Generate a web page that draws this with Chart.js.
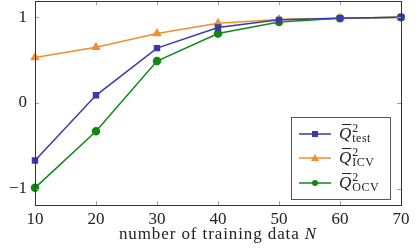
<!DOCTYPE html>
<html lang="en">
<head>
<meta charset="UTF-8">
<title>Q2 vs training data</title>
<script src="https://cdn.jsdelivr.net/npm/chart.js"></script>
<style>
  html, body { margin: 0; padding: 0; background: #fff; }
  #wrap { width: 416px; height: 248px; }
</style>
</head>
<body>
<div id="wrap"><canvas id="q2Chart" width="416" height="248"></canvas></div>
<script>
const trainingN = [10, 20, 30, 40, 50, 60, 70];
const q2Test = [-0.67, 0.09, 0.64, 0.88, 0.97, 0.99, 1.0];
const q2Icv = [0.53, 0.65, 0.81, 0.93, 0.975, 0.99, 1.0];
const q2Ocv = [-0.99, -0.33, 0.49, 0.81, 0.945, 0.99, 1.0];
const yTicks = [-1, 0, 1];
const seriesSubs = ["test", "ICV", "OCV"];

const serif = "'Liberation Serif', 'DejaVu Serif', serif";
const colors = ["#3a3aa6", "#f28e2b", "#118811"];
const markers = ["rect", "triangle", "circle"];

// inside tick marks + frame, like pgfplots
const framePlugin = {
    id: "frame",
    afterDraw(chart) {
        const { ctx, chartArea: a, scales } = chart;
        ctx.save();
        ctx.strokeStyle = "#a0a0a0";
        ctx.lineWidth = 1;
        trainingN.forEach(v => {
            const x = Math.round(scales.x.getPixelForValue(v)) + 0.5;
            ctx.beginPath();
            ctx.moveTo(x, a.bottom); ctx.lineTo(x, a.bottom - 4);
            ctx.moveTo(x, a.top); ctx.lineTo(x, a.top + 4);
            ctx.stroke();
        });
        yTicks.forEach(v => {
            const y = Math.round(scales.y.getPixelForValue(v)) + 0.5;
            ctx.beginPath();
            ctx.moveTo(a.left, y); ctx.lineTo(a.left + 4, y);
            ctx.moveTo(a.right, y); ctx.lineTo(a.right - 4, y);
            ctx.stroke();
        });
        ctx.strokeStyle = "#333";
        ctx.strokeRect(Math.round(a.left) + 0.5, Math.round(a.top) + 0.5,
            Math.round(a.right - a.left), Math.round(a.bottom - a.top));

        // x axis title with italic N
        ctx.fillStyle = "#222";
        ctx.textBaseline = "alphabetic";
        ctx.letterSpacing = "0.9px";
        ctx.font = "17px " + serif;
        const t1 = "number of training data ";
        const w1 = ctx.measureText(t1).width;
        ctx.font = "italic 17px " + serif;
        const w2 = ctx.measureText("N").width;
        const cx = (a.left + a.right) / 2;
        let x0 = cx - (w1 + w2) / 2;
        ctx.font = "17px " + serif;
        ctx.fillText(t1, x0, 239);
        ctx.font = "italic 17px " + serif;
        ctx.fillText("N", x0 + w1, 239);
        ctx.letterSpacing = "0px";

        // legend
        const lx = 291.5, ly = 117.5, lw = 99, lh = 82;
        ctx.fillStyle = "#fff";
        ctx.fillRect(lx, ly, lw, lh);
        ctx.strokeStyle = "#555";
        ctx.strokeRect(lx, ly, lw, lh);
        const rows = [134, 158, 183];
        chart.data.datasets.forEach((ds, i) => {
            const y = rows[i];
            ctx.strokeStyle = ds.borderColor;
            ctx.lineWidth = 1.5;
            ctx.beginPath();
            ctx.moveTo(299, y); ctx.lineTo(331, y);
            ctx.stroke();
            ctx.fillStyle = ds.borderColor;
            if (markers[i] === "rect") {
                ctx.fillRect(312, y - 3, 6, 6);
            } else if (markers[i] === "triangle") {
                ctx.beginPath();
                ctx.moveTo(315, y - 4); ctx.lineTo(319, y + 3); ctx.lineTo(311, y + 3);
                ctx.closePath(); ctx.fill();
            } else {
                ctx.beginPath(); ctx.arc(315, y, 3, 0, Math.PI * 2); ctx.fill();
            }
            // label: Q-bar ^2 _sub
            ctx.fillStyle = "#222";
            ctx.font = "italic 17px " + serif;
            const qx = 339, base = y + 5;
            ctx.fillText("Q", qx, base);
            const qw = ctx.measureText("Q").width;
            ctx.fillRect(qx + 3, base - 15, qw - 3, 1);
            ctx.font = "12px " + serif;
            ctx.letterSpacing = "0.5px";
            ctx.fillText("2", qx + qw + 1, base - 7);
            ctx.fillText(seriesSubs[i], qx + qw + 1, base + 3);
            ctx.letterSpacing = "0px";
        });
        ctx.restore();
    }
};

const makeSet = (label, data, i) => ({
    label: label,
    data: data,
    borderColor: colors[i],
    backgroundColor: colors[i],
    borderWidth: 1.5,
    pointStyle: markers[i],
    pointRadius: markers[i] === "triangle" ? 4 : 3.5,
    pointHoverRadius: 4,
    tension: 0,
    clip: 6
});

new Chart(document.getElementById("q2Chart"), {
    type: "line",
    data: {
        labels: trainingN,
        datasets: [
            makeSet("Q test", trainingN.map((n, k) => ({ x: n, y: q2Test[k] })), 0),
            makeSet("Q ICV", trainingN.map((n, k) => ({ x: n, y: q2Icv[k] })), 1),
            makeSet("Q OCV", trainingN.map((n, k) => ({ x: n, y: q2Ocv[k] })), 2)
        ]
    },
    options: {
        responsive: false,
        animation: false,
        layout: { autoPadding: false, padding: { top: 1, right: 15, left: 0, bottom: 0 } },
        plugins: { legend: { display: false }, tooltip: { enabled: false } },
        scales: {
            x: {
                type: "linear",
                min: 10, max: 70,
                grid: { display: false, drawTicks: false, tickLength: 0 },
                border: { display: false },
                ticks: { stepSize: 10, padding: 4, color: "#222", font: { family: serif, size: 17 } },
                afterFit: s => { s.height = 43; s.paddingLeft = 0; s.paddingRight = 0; }
            },
            y: {
                min: -1.19, max: 1.19,
                grid: { display: false, drawTicks: false, tickLength: 0 },
                border: { display: false },
                afterBuildTicks: s => { s.ticks = yTicks.map(v => ({ value: v })); },
                ticks: {
                    padding: 8, color: "#222", font: { family: serif, size: 17 },
                    callback: v => (v < 0 ? "\u2212" + Math.abs(v) : String(v))
                },
                afterFit: s => { s.width = 35; s.paddingTop = 0; s.paddingBottom = 0; }
            }
        }
    },
    plugins: [framePlugin]
});
</script>
</body>
</html>
